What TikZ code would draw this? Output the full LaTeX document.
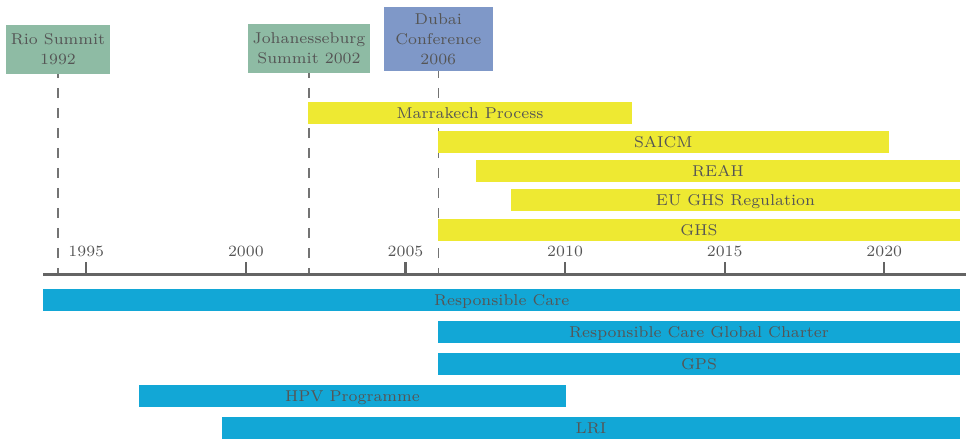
\documentclass[tikz,border=0pt]{standalone}
\usepackage{xcolor}
\definecolor{txt}{HTML}{555555}
\definecolor{axc}{HTML}{646464}
\definecolor{dsh}{HTML}{737373}
\definecolor{grn}{HTML}{8EBBA4}
\definecolor{blu}{HTML}{7F98C8}
\definecolor{yel}{HTML}{EEE932}
\definecolor{cya}{HTML}{12A7D6}
\def\U{0.446pt}
\pgfdeclarelayer{bg}
\pgfsetlayers{bg,main}
\begin{document}
\begin{tikzpicture}[x=\U, y=-\U,
  every node/.style={font=\fontsize{7}{8.9}\selectfont, text=txt, inner sep=0pt},
  evbox/.style={align=center},
  barbox/.style={text height=4.78pt, text depth=0pt, minimum height={21.7*\U}},
  ybar/.style={barbox, fill=yel},
  cbar/.style={barbox, fill=cya},
  dashline/.style={draw=dsh, line width=0.45pt, dash pattern=on 4.46pt off 4.46pt},
  axisline/.style={draw=axc, line width=1.34pt},
  tickline/.style={draw=axc, line width=0.9pt}
]
\useasboundingbox (0,0) rectangle (966,438);

% event boxes
\node[evbox, fill=grn, minimum width={104*\U}, minimum height={49*\U}] (rio) at (58,49.5) {Rio Summit\\1992};
\node[evbox, fill=grn, minimum width={122*\U}, minimum height={49*\U}] (joh) at (309,48.5) {Johanesseburg\\Summit 2002};
\node[evbox, fill=blu, minimum width={108.7*\U}, minimum height={64*\U}] (dub) at (438.3,39) {Dubai\\Conference\\2006};

% axis
\coordinate (axL) at (43.3,274.3);
\coordinate (axR) at (966,274.3);
\coordinate (dtop) at (0,68);
\draw[axisline] (axL) -- (axR);
\foreach \yr [count=\i from 0] in {1995,2000,2005,2010,2015,2020} {
  \pgfmathsetmacro\xx{86.3+\i*159.6}
  \coordinate (t\yr) at (\xx,274.3);
  \draw[tickline] (t\yr) -- ++(0,-12.3);
  \node[anchor=base] (l\yr) at (\xx,256.7) {\yr};
}

% yellow bars
\node[ybar, minimum width={324*\U}] (marr) at (470,112.85) {Marrakech Process};
\node[ybar, minimum width={450.7*\U}] (saicm) at (663.35,141.85) {SAICM};
\node[ybar, minimum width={484*\U}] (reah) at (718,170.85) {REAH};
\node[ybar, minimum width={449*\U}] (eughs) at (735.5,199.85) {EU GHS Regulation};
\node[ybar, minimum width={522*\U}] (ghs) at (699,229.85) {GHS};

% blue bars
\node[cbar, minimum width={916.7*\U}] (rc) at (501.65,300) {Responsible Care};
\node[cbar, minimum width={522*\U}] (rcgc) at (699,331.85) {Responsible Care Global Charter};
\node[cbar, minimum width={522*\U}] (gps) at (699,363.85) {GPS};
\node[cbar, minimum width={427*\U}] (hpv) at (352.5,395.85) {HPV Programme};
\node[cbar, minimum width={738*\U}] (lri) at (591,427.85) {LRI};

% dashed drop lines (behind)
\begin{pgfonlayer}{bg}
\draw[dashline] (rio.south |- dtop) -- (rio.south |- axL);
\draw[dashline] (joh.south |- dtop) -- (joh.south |- axL);
\draw[dashline] (dub.south |- dtop) -- (dub.south |- axL);
\end{pgfonlayer}
\end{tikzpicture}
\end{document}
